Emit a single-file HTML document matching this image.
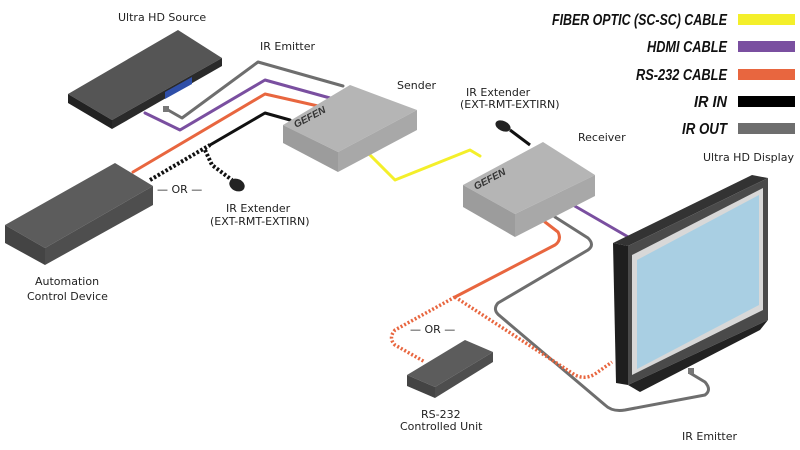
<!DOCTYPE html>
<html><head><meta charset="utf-8"><style>
html,body{margin:0;padding:0;background:#fff;width:800px;height:450px;overflow:hidden}
svg{display:block}
.t{font-family:"DejaVu Sans","Liberation Sans",sans-serif;font-size:11px;fill:#222}
.lg{font-family:"Liberation Sans",sans-serif;font-weight:bold;font-style:italic;font-size:16px;fill:#111}
</style></head><body>
<svg width="800" height="450" viewBox="0 0 800 450" xmlns="http://www.w3.org/2000/svg">
<g fill="none" stroke-linecap="round" stroke-linejoin="round">
<path d="M168,110 L182,118 L258,62 L343,86" stroke="#6e6e6e" stroke-width="3"/>
<path d="M145,113 L180,130 L265,80 L330,98" stroke="#7a4fa0" stroke-width="3"/>
<path d="M133,172 L265,94 L318,106" stroke="#e8663f" stroke-width="3"/>
<path d="M210,145 L265,113 L290,120" stroke="#111" stroke-width="3"/>
<path d="M365,150 L395,180 L470,150 L480,156" stroke="#f4ef2a" stroke-width="3"/>
<path d="M573,205 L630,238" stroke="#7a4fa0" stroke-width="3"/>
<path d="M555,217 L588,238 Q595,245 588,250 L498,303 Q492,310 500,316 L605,405 Q612,412 625,410 L705,395 Q712,390 705,382 L690,373" stroke="#6e6e6e" stroke-width="3"/>
<path d="M545,222 L558,232 Q562,240 555,245 L455,297" stroke="#e8663f" stroke-width="3"/>
</g>
<g fill="none" stroke-linecap="butt" stroke-linejoin="round">
<path d="M150,180 L210,145" stroke="#111" stroke-width="4" stroke-dasharray="2.5 2"/>
<path d="M205,150 L212,165 L232,180" stroke="#111" stroke-width="4" stroke-dasharray="2.5 2"/>
<path d="M455,297 L395,330 Q388,338 395,345 L425,362" stroke="#e8663f" stroke-width="3.5" stroke-dasharray="2 2"/>
<path d="M455,297 L575,375 Q585,380 595,374 L612,362" stroke="#e8663f" stroke-width="3.5" stroke-dasharray="2 2"/>
</g>
<ellipse cx="237" cy="185" rx="8" ry="6" fill="#222" transform="rotate(25 237 185)"/>
<line x1="510" y1="130" x2="530" y2="145" stroke="#111" stroke-width="3"/>
<ellipse cx="503" cy="126" rx="8" ry="5" fill="#222" transform="rotate(25 503 126)"/>
<rect x="688" y="368" width="6" height="6" fill="#777"/>
<rect x="163" y="106" width="6" height="6" fill="#777"/>
<polygon points="68,94 178,30 222,58 112,120" fill="#555"/>
<polygon points="68,94 112,120 112,129 68,103" fill="#222"/>
<polygon points="112,120 222,58 222,66 112,129" fill="#2a2a2a"/>
<polygon points="165,92 192,77 192,84 165,99" fill="#2f4fa8"/>
<polygon points="283,125 350,85 417,110 338,152" fill="#b5b5b5"/>
<polygon points="283,125 338,152 338,172 283,143" fill="#9c9c9c"/>
<polygon points="338,152 417,110 417,130 338,172" fill="#a8a8a8"/>
<text x="296" y="128" font-family="Liberation Sans,sans-serif" font-size="10" font-weight="bold" font-style="italic" fill="#333" transform="rotate(-28 296 128)">GEFEN</text>
<polygon points="5,225 115,163 153,186 45,248" fill="#5c5c5c"/>
<polygon points="5,225 45,248 45,265 5,243" fill="#444"/>
<polygon points="45,248 153,186 153,205 45,265" fill="#4e4e4e"/>
<polygon points="463,185 543,142 595,175 515,214" fill="#b5b5b5"/>
<polygon points="463,185 515,214 515,237 463,207" fill="#9c9c9c"/>
<polygon points="515,214 595,175 595,196 515,237" fill="#a8a8a8"/>
<text x="476" y="190" font-family="Liberation Sans,sans-serif" font-size="10" font-weight="bold" font-style="italic" fill="#333" transform="rotate(-28 476 190)">GEFEN</text>
<polygon points="407,375 465,340 493,352 435,387" fill="#5c5c5c"/>
<polygon points="407,375 435,387 435,398 407,386" fill="#444"/>
<polygon points="435,387 493,352 493,362 435,398" fill="#4e4e4e"/>
<polygon points="613,243 752,175 768,178 628,246" fill="#333"/>
<polygon points="613,243 628,246 628,385 616,383" fill="#1e1e1e"/>
<polygon points="628,246 768,178 768,320 628,385" fill="#4a4a4a"/>
<polygon points="632,255 763,188 763,310 632,375" fill="#d8d8d8"/>
<polygon points="637,260 759,195 759,305 637,369" fill="#a9cfe3"/>
<polygon points="628,385 768,320 760,330 640,392" fill="#222"/>
<text class="t" x="118" y="21">Ultra HD Source</text>
<text class="t" x="260" y="50">IR Emitter</text>
<text class="t" x="397" y="89">Sender</text>
<text class="t" x="466" y="96">IR Extender</text>
<text class="t" x="460" y="108">(EXT-RMT-EXTIRN)</text>
<text class="t" x="578" y="141">Receiver</text>
<text class="t" x="703" y="161">Ultra HD Display</text>
<text class="t" x="157" y="193">— OR —</text>
<text class="t" x="226" y="212">IR Extender</text>
<text class="t" x="210" y="225">(EXT-RMT-EXTIRN)</text>
<text class="t" x="35" y="285">Automation</text>
<text class="t" x="27" y="300">Control Device</text>
<text class="t" x="410" y="333">— OR —</text>
<text class="t" x="421" y="418">RS-232</text>
<text class="t" x="400" y="430">Controlled Unit</text>
<text class="t" x="682" y="440">IR Emitter</text>
<g class="lg" text-anchor="end">
<text x="727" y="25" textLength="175" lengthAdjust="spacingAndGlyphs">FIBER OPTIC (SC-SC) CABLE</text>
<text x="727" y="52" textLength="80" lengthAdjust="spacingAndGlyphs">HDMI CABLE</text>
<text x="727" y="80" textLength="91" lengthAdjust="spacingAndGlyphs">RS-232 CABLE</text>
<text x="727" y="107" textLength="33" lengthAdjust="spacingAndGlyphs">IR IN</text>
<text x="727" y="134" textLength="45" lengthAdjust="spacingAndGlyphs">IR OUT</text>
</g>
<rect x="738" y="14" width="57" height="11" fill="#f4ef2a"/>
<rect x="738" y="41" width="57" height="11" fill="#7a4fa0"/>
<rect x="738" y="69" width="57" height="11" fill="#e8663f"/>
<rect x="738" y="96" width="57" height="11" fill="#000"/>
<rect x="738" y="123" width="57" height="11" fill="#6e6e6e"/>
</svg>
</body></html>
